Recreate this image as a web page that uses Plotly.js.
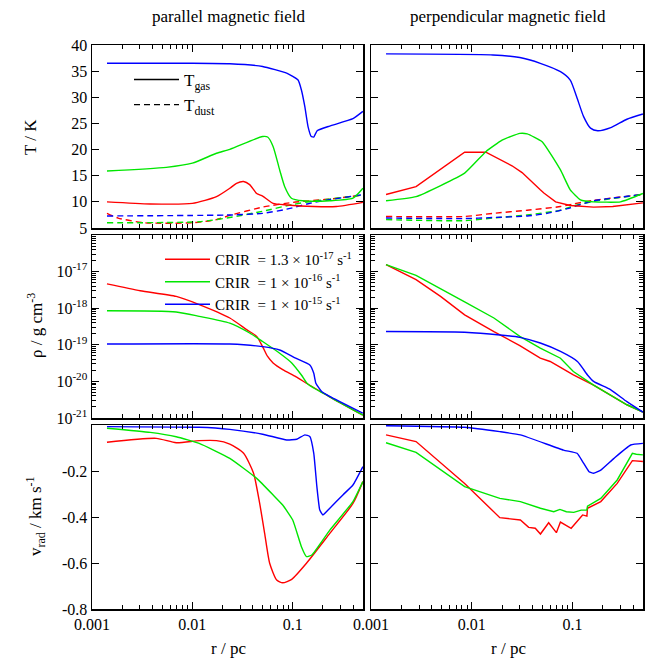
<!DOCTYPE html>
<html>
<head>
<meta charset="utf-8">
<script src="https://cdn.plot.ly/plotly-3.0.1.min.js"></script>
<style>html,body{margin:0;padding:0;background:#fff;}#chart{width:649px;height:662px;}</style>
</head>
<body>
<div id="chart"></div>
<script>
// ---------- DATA (r in pc) ----------
// Parallel field, gas temperature (K)
const parTgasBlueR = [0.00141,0.01,0.0236,0.0501,0.0871,0.113,0.122,0.132,0.142,0.153,0.162,0.175,0.233,0.398,0.5];
const parTgasBlue  = [36.5,36.5,36.4,35.9,34.6,33.3,31.4,28.2,24.4,22.5,22.4,23.6,24.5,25.9,27.3];
const parTgasGreenR = [0.00141,0.0055,0.01,0.0174,0.0236,0.0501,0.0562,0.0637,0.0741,0.0832,0.097,0.126,0.233,0.398,0.5];
const parTgasGreen  = [15.9,16.6,17.4,19.3,20.05,22.5,22.4,20.6,16.1,12.9,10.7,10.2,10.2,10.7,12.6];
const parTgasRedR = [0.00141,0.0038,0.01,0.0174,0.0236,0.0275,0.0324,0.0372,0.0437,0.0501,0.0562,0.0637,0.0871,0.162,0.272,0.5];
const parTgasRed  = [10.0,9.6,9.7,11.0,12.6,13.55,13.9,13.3,11.6,11.1,10.4,9.7,9.4,9.1,9.1,9.9];
// Parallel field, dust temperature (K)
const parTdustRedR = [0.00141,0.00182,0.00331,0.01,0.0174,0.0236,0.0501,0.1,0.17,0.251,0.5];
const parTdustRed  = [7.8,6.9,6.0,6.0,6.6,7.4,9.0,9.9,10.3,10.6,11.3];
const parTdustGreenR = [0.00141,0.0117,0.0236,0.0501,0.1,0.17,0.251,0.5];
const parTdustGreen  = [6.0,6.2,7.0,8.2,9.5,10.2,10.6,11.3];
const parTdustBlueR = [0.00141,0.0251,0.0501,0.0871,0.162,0.233,0.5];
const parTdustBlue  = [7.3,7.5,7.8,8.6,9.9,10.4,11.4];
// Perpendicular field, gas temperature (K)
const perTgasBlueR = [0.00141,0.0162,0.030,0.0479,0.076,0.095,0.11,0.129,0.151,0.178,0.24,0.347,0.5];
const perTgasBlue  = [38.3,38.1,37.6,36.5,34.9,33.3,30.1,26.3,24.1,23.6,24.2,25.8,26.8];
const perTgasRedR = [0.00141,0.0028,0.0085,0.0138,0.0251,0.0316,0.0479,0.052,0.068,0.095,0.162,0.251,0.5];
const perTgasRed  = [11.4,12.9,19.5,19.5,16.9,15.6,12.3,11.7,10.0,9.3,9.0,9.1,9.8];
const perTgasGreenR = [0.00141,0.0028,0.0085,0.0138,0.02,0.030,0.0355,0.05,0.076,0.095,0.12,0.162,0.3,0.5];
const perTgasGreen  = [10.2,11.0,15.5,19.6,21.8,23.1,23.0,21.5,16.1,12.3,10.4,10.0,10.0,11.6];
// Perpendicular field, dust temperature (K)
const perTdustRedR = [0.00141,0.0085,0.0162,0.0355,0.076,0.102,0.162,0.5];
const perTdustRed  = [7.2,7.2,7.8,8.4,9.1,9.6,10.3,11.4];
const perTdustGreenR = [0.00141,0.0085,0.0162,0.0355,0.076,0.102,0.162,0.5];
const perTdustGreen  = [6.6,6.4,6.9,7.5,8.4,9.2,10.1,11.4];
const perTdustBlueR = [0.00141,0.0085,0.0162,0.0355,0.056,0.089,0.162,0.5];
const perTdustBlue  = [6.9,6.8,7.0,7.3,7.8,8.7,10.2,11.4];
// Density (g cm^-3)
const parRhoRedR = [0.00141,0.00302,0.0069,0.0117,0.0236,0.0347,0.0437,0.0501,0.0562,0.0637,0.0794,0.107,0.141,0.233,0.5];
const parRhoRed  = [4.6e-18,3.0e-18,2.1e-18,1.26e-18,5.4e-19,2.6e-19,1.7e-19,8.9e-20,4.8e-20,3.2e-20,2.1e-20,1.35e-20,8.5e-21,3.8e-21,1.2e-21];
const parRhoGreenR = [0.00141,0.0069,0.0117,0.0236,0.0372,0.0501,0.0741,0.0977,0.122,0.141,0.233,0.5];
const parRhoGreen  = [8.5e-19,7.9e-19,6.0e-19,3.9e-19,2.1e-19,1.23e-19,5.9e-20,3.2e-20,1.5e-20,8.5e-21,3.8e-21,1.2e-21];
const parRhoBlueR = [0.00141,0.0236,0.0501,0.0741,0.107,0.148,0.162,0.17,0.195,0.233,0.5];
const parRhoBlue  = [1.05e-19,1.05e-19,8.9e-20,7.2e-20,4.3e-20,2.8e-20,1.66e-20,8.9e-21,5.2e-21,3.9e-21,1.35e-21];
const perRhoRedR = [0.00141,0.0028,0.0049,0.0085,0.0166,0.030,0.0479,0.06,0.076,0.102,0.162,0.347,0.5];
const perRhoRed  = [1.55e-17,6.0e-18,2.1e-18,6.6e-19,2.3e-19,9.5e-20,4.3e-20,3.5e-20,2.4e-20,1.5e-20,7.9e-21,2.3e-21,1.45e-21];
const perRhoGreenR = [0.00141,0.0028,0.0085,0.0166,0.030,0.0479,0.076,0.102,0.162,0.347,0.5];
const perRhoGreen  = [1.55e-17,7.9e-18,1.48e-18,5.4e-19,1.7e-19,8.1e-20,4.3e-20,1.86e-20,7.9e-21,2.3e-21,1.45e-21];
const perRhoBlueR = [0.00141,0.0085,0.019,0.030,0.0479,0.076,0.112,0.141,0.162,0.24,0.347,0.5];
const perRhoBlue  = [2.3e-19,2.2e-19,1.86e-19,1.6e-19,1.12e-19,6.6e-20,3.5e-20,1.5e-20,1.0e-20,5.9e-21,2.8e-21,1.45e-21];
// Radial velocity (km s^-1)
const parVBlueR = [0.00141,0.0117,0.0236,0.0501,0.0871,0.1096,0.132,0.148,0.162,0.174,0.186,0.2,0.234,0.316,0.398,0.5];
const parVBlue  = [-0.007,-0.01,-0.019,-0.04,-0.065,-0.062,-0.043,-0.05,-0.123,-0.268,-0.37,-0.391,-0.362,-0.304,-0.261,-0.181];
const parVGreenR = [0.00141,0.0038,0.0069,0.0117,0.0236,0.0437,0.0637,0.0794,0.1,0.122,0.137,0.155,0.234,0.398,0.5];
const parVGreen  = [-0.014,-0.032,-0.051,-0.08,-0.145,-0.232,-0.304,-0.348,-0.413,-0.529,-0.572,-0.565,-0.457,-0.333,-0.246];
const parVRedR = [0.00141,0.00437,0.0069,0.0117,0.0174,0.0236,0.0324,0.0407,0.0468,0.0525,0.0589,0.0692,0.0794,0.0977,0.137,0.234,0.398,0.5];
const parVRed  = [-0.075,-0.058,-0.077,-0.068,-0.068,-0.083,-0.123,-0.21,-0.34,-0.471,-0.601,-0.674,-0.686,-0.671,-0.601,-0.471,-0.341,-0.246];
const perVBlueR = [0.00141,0.0085,0.019,0.0304,0.0813,0.111,0.126,0.146,0.162,0.191,0.258,0.378,0.5];
const perVBlue  = [-0.003,-0.01,-0.029,-0.043,-0.109,-0.123,-0.159,-0.203,-0.21,-0.196,-0.145,-0.087,-0.08];
const perVRedR = [0.00141,0.0028,0.0085,0.019,0.0304,0.0367,0.0427,0.0481,0.058,0.0692,0.0759,0.097,0.126,0.139,0.141,0.191,0.278,0.393,0.5];
const perVRed  = [-0.043,-0.072,-0.254,-0.403,-0.413,-0.445,-0.449,-0.474,-0.425,-0.468,-0.422,-0.449,-0.391,-0.396,-0.362,-0.333,-0.254,-0.155,-0.159];
const perVGreenR = [0.00141,0.0028,0.0085,0.019,0.0304,0.0481,0.0652,0.075,0.087,0.103,0.122,0.139,0.141,0.191,0.278,0.393,0.43,0.5];
const perVGreen  = [-0.077,-0.119,-0.268,-0.319,-0.333,-0.362,-0.377,-0.367,-0.377,-0.38,-0.37,-0.37,-0.353,-0.319,-0.239,-0.123,-0.127,-0.13];

// Tick labels
const xTickVals = [0.001,0.01,0.1];
const xTickText = ['0.001','0.01','0.1'];
const tTickVals = [5,10,15,20,25,30,35,40];
const rhoTickVals = [1e-21,1e-20,1e-19,1e-18,1e-17];
const rhoTickText = ['10<sup>-21</sup>','10<sup>-20</sup>','10<sup>-19</sup>','10<sup>-18</sup>','10<sup>-17</sup>'];
const vTickVals = [-0.8,-0.6,-0.4,-0.2];
const vTickText = ['-0.8','-0.6','-0.4','-0.2'];
const legendLabels = ['CRIR  = 1.3 × 10<sup>-17</sup> s<sup>-1</sup>','CRIR  = 1 × 10<sup>-16</sup> s<sup>-1</sup>','CRIR  = 1 × 10<sup>-15</sup> s<sup>-1</sup>'];
const tempLegend = ['T<sub>gas</sub>','T<sub>dust</sub>'];

// minor log ticks (2..9 within each decade)
function minorLogTicks(lo,hi){const v=[];for(let d=lo;d<hi;d++){for(let k=2;k<=9;k++){v.push(k*Math.pow(10,d));}}return v;}
const xMinor = minorLogTicks(-3,0);
const rhoMinor = minorLogTicks(-21,-16);

// ---------- STYLE ----------
const RED='#ff0000', GREEN='#00e600', BLUE='#0000ff';
const FONT='Liberation Serif, Times New Roman, serif';
const LW=1.4;

const traces=[];
function add(x,y,color,ax,dash,smooth,opts){
  const line={color:color,width:LW,dash:dash||'solid'};
  if(smooth){line.shape='spline';line.smoothing=smooth;}
  traces.push(Object.assign({x:x,y:y,type:'scatter',mode:'lines',
    line:line,xaxis:'x'+(ax===1?'':ax),yaxis:'y'+(ax===1?'':ax),
    showlegend:false,hoverinfo:'skip'},opts||{}));
}
const dsh='6px,4px';
const S=0.6;
// top row
add(parTdustRedR,parTdustRed,RED,1,dsh,S);
add(parTdustGreenR,parTdustGreen,GREEN,1,dsh,S);
add(parTdustBlueR,parTdustBlue,BLUE,1,dsh,S);
add(parTgasRedR,parTgasRed,RED,1,null,S);
add(parTgasGreenR,parTgasGreen,GREEN,1,null,S);
add(parTgasBlueR,parTgasBlue,BLUE,1,null,0.4);
add(perTdustRedR,perTdustRed,RED,2,dsh,S);
add(perTdustGreenR,perTdustGreen,GREEN,2,dsh,S);
add(perTdustBlueR,perTdustBlue,BLUE,2,dsh,S);
add(perTgasRedR,perTgasRed,RED,2);
add(perTgasGreenR,perTgasGreen,GREEN,2,null,0.4);
add(perTgasBlueR,perTgasBlue,BLUE,2,null,S);
// legend for temperature
add([null],[null],'#000',1,null,0,{showlegend:true,name:tempLegend[0],legend:'legend'});
add([null],[null],'#000',1,dsh,0,{showlegend:true,name:tempLegend[1],legend:'legend'});
// middle row
add(parRhoRedR,parRhoRed,RED,3,null,S,{showlegend:true,name:legendLabels[0],legend:'legend2'});
add(parRhoGreenR,parRhoGreen,GREEN,3,null,S,{showlegend:true,name:legendLabels[1],legend:'legend2'});
add(parRhoBlueR,parRhoBlue,BLUE,3,null,0.4,{showlegend:true,name:legendLabels[2],legend:'legend2'});
add(perRhoRedR,perRhoRed,RED,4);
add(perRhoGreenR,perRhoGreen,GREEN,4);
add(perRhoBlueR,perRhoBlue,BLUE,4,null,S);
// bottom row
add(parVRedR,parVRed,RED,5,null,S);
add(parVGreenR,parVGreen,GREEN,5,null,0.4);
add(parVBlueR,parVBlue,BLUE,5,null,0.4);
add(perVRedR,perVRed,RED,6);
add(perVGreenR,perVGreen,GREEN,6);
add(perVBlueR,perVBlue,BLUE,6,null,0.4);

const W=649,H=662;
const colDom=[[92/W,363/W],[371/W,643/W]];
const rowDom=[[1-228/H,1-45/H],[1-418/H,1-235/H],[1-609/H,1-425/H]];
const tickFont={family:FONT,size:16,color:'#000'};

const layout={width:W,height:H,margin:{l:0,r:0,t:0,b:0},paper_bgcolor:'#fff',plot_bgcolor:'#fff',
  font:{family:FONT,size:16,color:'#000'},annotations:[],
  legend:{x:129/W,y:1-62/H,xanchor:'left',yanchor:'top',bgcolor:'rgba(0,0,0,0)',font:{family:FONT,size:17},tracegroupgap:0,itemwidth:45},
  legend2:{x:160/W,y:1-243/H,xanchor:'left',yanchor:'top',bgcolor:'rgba(0,0,0,0)',font:{family:FONT,size:15},tracegroupgap:0,itemwidth:45}
};
for(let row=0;row<3;row++){
  for(let col=0;col<2;col++){
    const i=row*2+col+1;
    const xk='xaxis'+(i===1?'':i), yk='yaxis'+(i===1?'':i);
    layout[xk]={domain:colDom[col],anchor:'y'+(i===1?'':i),type:'log',range:[-3,-0.3],
      tickmode:'array',tickvals:xTickVals,ticktext:xTickText,ticks:'inside',ticklen:7,tickwidth:1,tickcolor:'#000',
      minor:{tickmode:'array',tickvals:xMinor,ticks:'inside',ticklen:4,tickcolor:'#000',tickwidth:1,showgrid:false},
      showline:true,linewidth:1.5,linecolor:'#000',mirror:'allticks',showgrid:false,zeroline:false,
      showticklabels:row===2,tickfont:tickFont,fixedrange:true};
    const ya={domain:rowDom[row],anchor:'x'+(i===1?'':i),ticks:'inside',ticklen:7,tickwidth:1,tickcolor:'#000',
      showline:true,linewidth:1.5,linecolor:'#000',mirror:'allticks',showgrid:false,zeroline:false,
      showticklabels:col===0,tickfont:tickFont,fixedrange:true};
    if(row===0){Object.assign(ya,{range:[5,40],tickmode:'array',tickvals:tTickVals});}
    if(row===1){Object.assign(ya,{type:'log',range:[-21,-16],tickmode:'array',tickvals:rhoTickVals,ticktext:rhoTickText,
      minor:{tickmode:'array',tickvals:rhoMinor,ticks:'inside',ticklen:4,tickcolor:'#000',tickwidth:1,showgrid:false}});}
    if(row===2){Object.assign(ya,{range:[-0.8,0],tickmode:'array',tickvals:vTickVals,ticktext:vTickText});}
    layout[yk]=ya;
  }
}
function ann(text,x,y,size,angle){
  layout.annotations.push({text:text,x:x/W,y:1-y/H,xref:'paper',yref:'paper',showarrow:false,
    font:{family:FONT,size:size,color:'#000'},textangle:angle||0,xanchor:'center',yanchor:'middle'});
}
ann('parallel magnetic field',228,17,17);
ann('perpendicular magnetic field',508,17,17);
ann('T / K',30,137,17,-90);
ann('ρ / g cm<sup>-3</sup>',35,326,17,-90);
ann('v<sub>rad</sub> / km s<sup>-1</sup>',35,517,17,-90);
ann('r / pc',228,648,17);
ann('r / pc',508,648,17);

Plotly.newPlot('chart',traces,layout,{staticPlot:true,displayModeBar:false});
</script>
</body>
</html>
